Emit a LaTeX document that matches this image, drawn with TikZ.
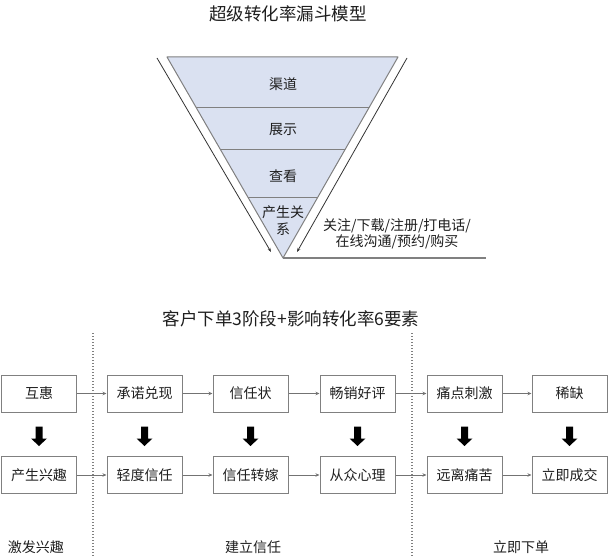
\documentclass[tikz,border=0pt]{standalone}
\usepackage{fontspec}
\setmainfont{Noto Sans CJK SC}
\usetikzlibrary{arrows.meta}
\definecolor{funnelfill}{RGB}{218,225,241}
\definecolor{linegray}{RGB}{128,128,128}
\definecolor{txt}{RGB}{30,30,30}
\tikzset{
  ttl/.style={font=\fontsize{17.5}{20}\selectfont, text=txt, inner sep=0pt},
  lbl/.style={font=\fontsize{14}{17}\selectfont, text=txt, inner sep=0pt, align=center},
  box/.style={draw=linegray, line width=1pt, minimum width=75pt, minimum height=37pt, inner sep=0pt, font=\fontsize{14}{16}\selectfont, text=txt},
  flow/.style={draw=linegray!90!black, line width=0.8pt, -{Stealth[length=4pt,width=3.5pt]}},
  bigarrow/.style={fill=black},
  sep/.style={draw=linegray, line width=1.2pt, dash pattern=on 1.2pt off 1.8pt},
}
\begin{document}
\begin{tikzpicture}[x=1pt,y=-1pt]
\useasboundingbox (0,0) rectangle (608,556);
% titles
\node[ttl] (t1) at (288,14) {超级转化率漏斗模型};
\node[ttl] (t2) at (291,319) {客户下单3阶段+影响转化率6要素};
% funnel
\coordinate (fl) at (167,57);
\coordinate (fr) at (398,57);
\coordinate (fa) at (283,258);
\fill[funnelfill] (fl) -- (fr) -- (fa) -- cycle;
\begin{scope}
\clip (fl) -- (fr) -- (fa) -- cycle;
\draw[linegray, line width=1pt] (150,108) -- (420,108);
\draw[linegray, line width=1pt] (150,150) -- (420,150);
\draw[linegray, line width=1pt] (150,198) -- (420,198);
\end{scope}
\draw[linegray, line width=1pt, line join=round] (fl) -- (fr) -- (fa) -- cycle;
\node[lbl] (f1) at (283,84) {渠道};
\node[lbl] (f2) at (283,130) {展示};
\node[lbl] (f3) at (283,176) {查看};
\node[lbl] (f4) at (283,221) {产生关\\系};
% side arrows
\coordinate (la0) at (157,58);
\coordinate (la1) at (271,252);
\coordinate (ra0) at (407,58);
\coordinate (ra1) at (297,252);
\draw[black!80, line width=0.8pt, -{Stealth[length=4pt,width=3pt]}] (la0) -- (la1);
\draw[black!80, line width=0.8pt, -{Stealth[length=4pt,width=3pt]}] (ra0) -- (ra1);
\coordinate (be) at (486,258);
\draw[linegray, line width=1.2pt] (fa) -- (be);
\node[lbl, font=\fontsize{14}{16.5}\selectfont] (side) at (397,234) {关注/下载/注册/打电话/\\在线沟通/预约/购买};
% separators
\coordinate (s1a) at (93,333); \coordinate (s1b) at (93,556);
\coordinate (s2a) at (412,333); \coordinate (s2b) at (412,556);
\draw[sep] (s1a) -- (s1b);
\draw[sep] (s2a) -- (s2b);
% boxes row 1
\node[box] (a1) at (39,393.5) {互惠};
\node[box] (a2) at (144.5,393.5) {承诺兑现};
\node[box] (a3) at (250.5,393.5) {信任状};
\node[box] (a4) at (357.5,393.5) {畅销好评};
\node[box] (a5) at (464.5,393.5) {痛点刺激};
\node[box] (a6) at (569.5,393.5) {稀缺};
% boxes row 2
\node[box] (b1) at (39,475) {产生兴趣};
\node[box] (b2) at (144.5,475) {轻度信任};
\node[box] (b3) at (250.5,475) {信任转嫁};
\node[box] (b4) at (357.5,475) {从众心理};
\node[box] (b5) at (464.5,475) {远离痛苦};
\node[box] (b6) at (569.5,475) {立即成交};
% flows
\foreach \i/\j in {1/2,2/3,3/4,4/5,5/6} {
  \draw[flow] (a\i) -- (a\j);
  \draw[flow] (b\i) -- (b\j);
}
% big arrows
\foreach \c in {a1,a2,a3,a4,a5,a6} {
  \path (\c.south) ++(0,14) coordinate (top\c);
  \fill[bigarrow] (top\c) ++(-3.5,0) -- ++(7,0) -- ++(0,12) -- ++(4.5,0) -- ++(-8,7.5) -- ++(-8,-7.5) -- ++(4.5,0) -- cycle;
}
% phase labels
\node[lbl] (p1) at (36,547) {激发兴趣};
\node[lbl] (p2) at (253,547) {建立信任};
\node[lbl] (p3) at (521,547) {立即下单};
\end{tikzpicture}
\end{document}
